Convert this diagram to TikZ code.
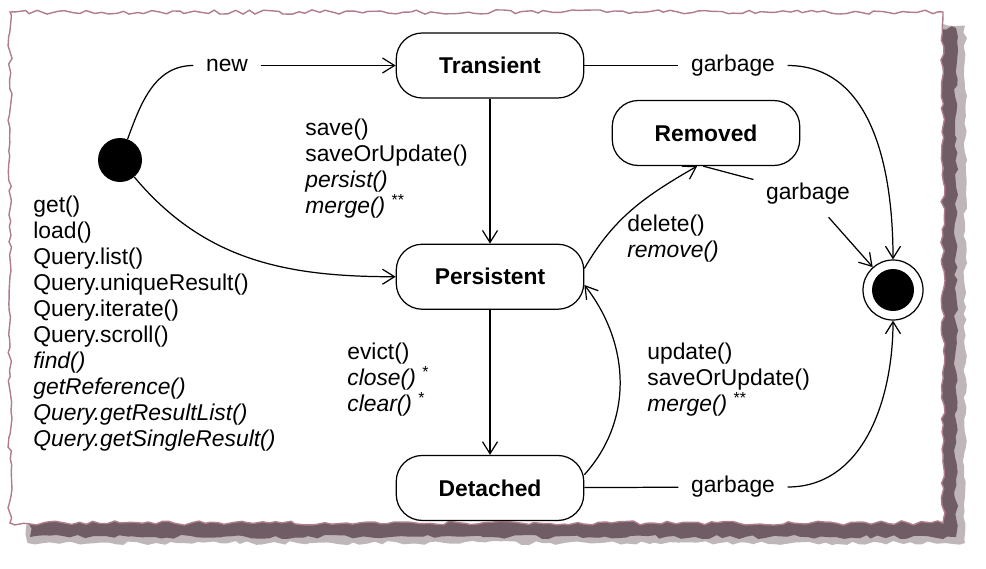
\documentclass[tikz,border=0pt]{standalone}
\usepackage{fontspec}
\setmainfont{Liberation Sans}
\usetikzlibrary{arrows.meta,positioning,decorations.pathmorphing}

\definecolor{papershade}{RGB}{112,92,100}
\definecolor{paperedge}{RGB}{175,125,140}

\begin{document}
\begin{tikzpicture}[
    node distance=2.9cm and 1.5cm,
    every node/.style={font=\fontsize{13}{14.8}\selectfont},
    state/.style={draw, rectangle, rounded corners=0.52cm, minimum width=3.75cm, minimum height=1.3cm, align=center, line width=0.7pt, font=\fontsize{13}{14.8}\selectfont\bfseries},
    initstate/.style={circle, fill=black, minimum size=0.88cm, inner sep=0},
    finalstate/.style={circle, draw, line width=0.7pt, minimum size=1.2cm, inner sep=0, path picture={\fill (path picture bounding box.center) circle (0.42cm);}},
    lbl/.style={inner sep=7pt},
    note/.style={inner sep=0, align=left},
    line/.style={line width=0.7pt},
    arrow/.style={->, >={Straight Barb[length=2.4mm, width=3mm]}, line width=0.7pt},
    torn/.style={decorate, decoration={random steps, segment length=4pt, amplitude=1.2pt}}
]

    \useasboundingbox (0,0) rectangle (19.72,11.36);

    % paper with shadow
    \fill[papershade!45, torn] (0.55,0.5) rectangle (19.3,10.85);
    \fill[papershade, torn] (0.6,0.62) rectangle (19.12,10.8);
    \draw[paperedge, fill=white, line width=0.8pt, torn] (0.2,0.9) rectangle (18.86,11.12);

    \node[state] (transient) at (9.8,10.05) {Transient};
    \node[state, below=of transient] (persistent) {Persistent};
    \node[state, below=of persistent] (detached) {Detached};
    \node[state] (removed) at (14.12,8.7) {Removed};

    \node[initstate] (init) at (2.4,8.16) {};
    \node[finalstate] (final) at (17.86,5.56) {};

    \node[lbl] (new) at (4.54,10.05) {new};
    \node[lbl] (gtrans) at (14.66,10.05) {garbage};
    \node[lbl] (gremov) at (16.16,7.48) {garbage};
    \node[lbl] (gdetach) at (14.66,1.62) {garbage};

    \node[note, anchor=west] (savenote) at (6.1,7.99) {save()\\saveOrUpdate()\\\textit{persist()}\\\textit{merge()} \textsuperscript{**}};
    \node[note, anchor=west] (loadnote) at (0.66,4.88) {get()\\load()\\Query.list()\\Query.uniqueResult()\\Query.iterate()\\Query.scroll()\\\textit{find()}\\\textit{getReference()}\\\textit{Query.getResultList()}\\\textit{Query.getSingleResult()}};
    \node[note, anchor=west] (evictnote) at (6.94,3.77) {evict()\\\textit{close()} \textsuperscript{*}\\\textit{clear()} \textsuperscript{*}};
    \node[note, anchor=west] (deletenote) at (12.54,6.59) {delete()\\\textit{remove()}};
    \node[note, anchor=west] (updatenote) at (12.94,3.77) {update()\\saveOrUpdate()\\\textit{merge()} \textsuperscript{**}};

    \draw[line] (init) to[out=70, in=180] (new);
    \draw[arrow] (new) -- (transient);
    \draw[arrow] (init) to[out=-50, in=180] (persistent);

    \draw[arrow] (transient) -- (persistent);
    \draw[arrow] (persistent) -- (detached);

    \draw[line] (transient) -- (gtrans);
    \draw[arrow] (gtrans) to[out=0, in=90] (final);

    \draw[arrow] (persistent.5) to[out=60, in=-150] (removed.-105);
    \draw[line] (removed.-95) -- (gremov);
    \draw[arrow] (gremov) -- (final);

    \draw[arrow] (detached.8) to[out=48, in=-52] (persistent.-5);
    \draw[line] (detached) -- (gdetach);
    \draw[arrow] (gdetach) to[out=0, in=-90] (final);

\end{tikzpicture}
\end{document}
